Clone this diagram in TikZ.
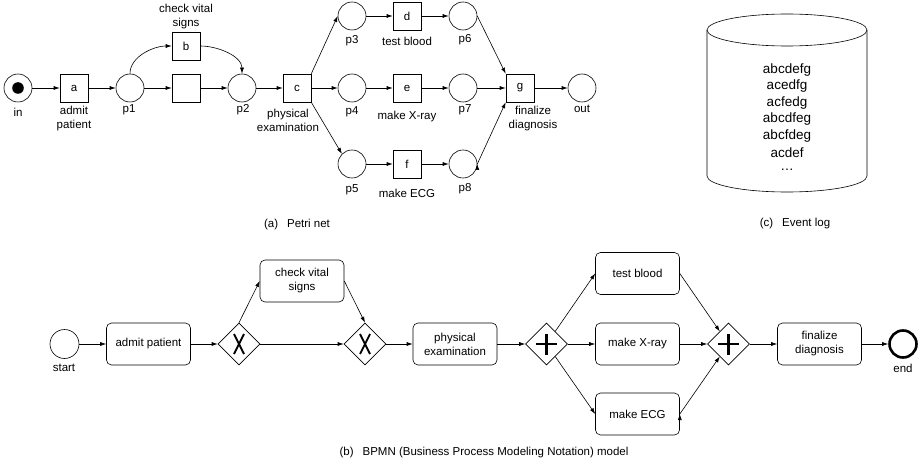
\documentclass[tikz,border=0pt]{standalone}
\usepackage{fontspec}
\setmainfont{Liberation Sans}
\usetikzlibrary{
    arrows.meta,
    shapes.geometric,
    calc,
    positioning
}
\tikzset{
    >={Latex[length=6pt,width=4pt]},
    every node/.style={font=\fontsize{11.5}{14}\selectfont},
    place/.style={circle, draw, minimum size=28pt, inner sep=0pt},
    trans/.style={rectangle, draw, minimum size=28pt, inner sep=0pt},
    lbl/.style={align=center, inner sep=0pt},
    task/.style={rectangle, draw, rounded corners=5pt, minimum width=84pt, minimum height=42pt, align=center, inner sep=0pt},
    gateway/.style={diamond, draw, minimum width=42pt, minimum height=42pt, inner sep=0pt},
    xorgw/.style={gateway, path picture={
        \draw[line width=1.8pt]
        ([shift={(-5pt,-10pt)}]path picture bounding box.center) -- ++(10pt,20pt)
        ([shift={(5pt,-10pt)}]path picture bounding box.center) -- ++(-10pt,20pt);
    }},
    andgw/.style={gateway, path picture={
        \draw[line width=2.6pt]
        ([xshift=-10.5pt]path picture bounding box.center) -- ++(21pt,0pt)
        ([yshift=-10.5pt]path picture bounding box.center) -- ++(0pt,21pt);
    }}
}

\begin{document}
\begin{tikzpicture}[x=1pt, y=1pt, line width=0.6pt]
    \useasboundingbox (0, 0) rectangle (920, -465);

    \node[place] (in) at (18, -88) {};
    \fill (in.center) circle[radius=5.8];
    \node[trans] (a) at (74, -88) {a};
    \node[place] (p1) at (130, -88) {};
    \node[trans] (b) at (186, -46) {b};
    \node[trans] (tau) at (186, -88) {};
    \node[place] (p2) at (242, -88) {};
    \node[trans] (c) at (297, -88) {c};
    \node[place] (p3) at (352, -16) {};
    \node[place] (p4) at (352, -88) {};
    \node[place] (p5) at (352, -164) {};
    \node[trans] (d) at (407, -16) {d};
    \node[trans] (e) at (407, -88) {e};
    \node[trans] (f) at (407, -164) {f};
    \node[place] (p6) at (463, -16) {};
    \node[place] (p7) at (463, -88) {};
    \node[place] (p8) at (463, -164) {};
    \node[trans] (g) at (520, -88) {g};
    \node[place] (out) at (582, -88) {};

    \node[lbl] (lin) at (18, -112) {in};
    \node[lbl] (la) at (74, -119) {admit\\patient};
    \node[lbl] (lp1) at (129, -110) {p1};
    \node[lbl] (lb) at (186, -17) {check vital\\signs};
    \node[lbl] (lp2) at (243, -110) {p2};
    \node[lbl] (lc) at (288, -120) {physical\\examination};
    \node[lbl] (lp3) at (352, -41) {p3};
    \node[lbl] (ld) at (407, -41) {test blood};
    \node[lbl] (lp6) at (465, -40) {p6};
    \node[lbl] (lp4) at (352, -112) {p4};
    \node[lbl] (le) at (407, -117) {make X-ray};
    \node[lbl] (lp7) at (465, -110) {p7};
    \node[lbl] (lp5) at (352, -190) {p5};
    \node[lbl] (lf) at (407, -193) {make ECG};
    \node[lbl] (lp8) at (465, -189) {p8};
    \node[lbl] (lg) at (533, -119) {finalize\\diagnosis};
    \node[lbl] (lout) at (582, -109) {out};

    \draw[->]
    (in) edge (a)
    (a) edge (p1)
    (p1) edge (tau)
    (tau) edge (p2)
    (p2) edge (c)
    (c.north east) edge (p3.west)
    (c) edge (p4)
    (c.south east) edge (p5.135)
    (p3) edge (d)
    (p4) edge (e)
    (p5) edge (f)
    (d) edge (p6)
    (e) edge (p7)
    (f) edge (p8)
    (p6.east) edge (g.north west)
    (p7) edge (g)
    (p8.east) edge (g.south west)
    (g) edge (out);
    \draw[->] (p1.north) to[out=90, in=180, looseness=0.9] (b.west);
    \draw[->] (b.east) to[out=0, in=90, looseness=0.9] (p2.north);

    \node[lbl] (capa) at (297, -225) {(a)\hspace{9pt}Petri net};

    \draw (707, -30) -- (707, -176) arc[start angle=180, end angle=360, x radius=80, y radius=16] -- (867, -30);
    \draw (787, -30) ellipse[x radius=80, y radius=16];
    \foreach \t [count=\i] in {abcdefg, acedfg, acfedg, abcdfeg, abcfdeg, acdef} {
        \node[lbl, font=\fontsize{13.5}{16}\selectfont] (trace\i) at (787, -53.5 - 16.5 * \i) {\t};
    }
    \node[lbl, font=\fontsize{13.5}{16}\selectfont, anchor=base] (trace7) at (787, -171) {\dots};
    \node[lbl] (capc) at (795, -224) {(c)\hspace{9pt}Event log};

    \node[circle, draw, minimum size=29pt, inner sep=0pt] (start) at (64.5, -344) {};
    \node[task] (admit) at (148.5, -344) {admit patient};
    \node[xorgw] (xsplit) at (239, -344) {};
    \node[task] (vital) at (302, -281) {check vital\\signs};
    \node[xorgw] (xjoin) at (365, -344) {};
    \node[task] (exam) at (455, -344) {physical\\examination};
    \node[andgw] (asplit) at (546.5, -344) {};
    \node[task] (blood) at (637.5, -273.5) {test blood};
    \node[task] (xray) at (637.5, -344) {make X-ray};
    \node[task] (ecg) at (637.5, -414) {make ECG};
    \node[andgw] (ajoin) at (728.5, -344) {};
    \node[task] (final) at (819.5, -344) {finalize\\diagnosis};
    \node[circle, draw, line width=2.6pt, minimum size=27pt, inner sep=0pt] (end) at (903, -344) {};
    \node[lbl] (lstart) at (64, -368) {start};
    \node[lbl] (lend) at (903, -368) {end};

    \draw[->]
    (start) edge (admit)
    (admit) edge (xsplit)
    (xsplit.north) edge (vital.west)
    (xsplit) edge (xjoin)
    (vital.east) edge (xjoin.north)
    (xjoin) edge (exam)
    (exam) edge (asplit)
    (asplit) edge (blood.west)
    (asplit) edge (xray)
    (asplit) edge (ecg.west)
    (blood.east) edge (ajoin)
    (xray) edge (ajoin)
    (ecg.east) edge (ajoin)
    (ajoin) edge (final)
    (final) edge (end);

    \node[lbl] (capb) at (484, -453) {(b)\hspace{9pt}BPMN (Business Process Modeling Notation) model};
\end{tikzpicture}
\end{document}
